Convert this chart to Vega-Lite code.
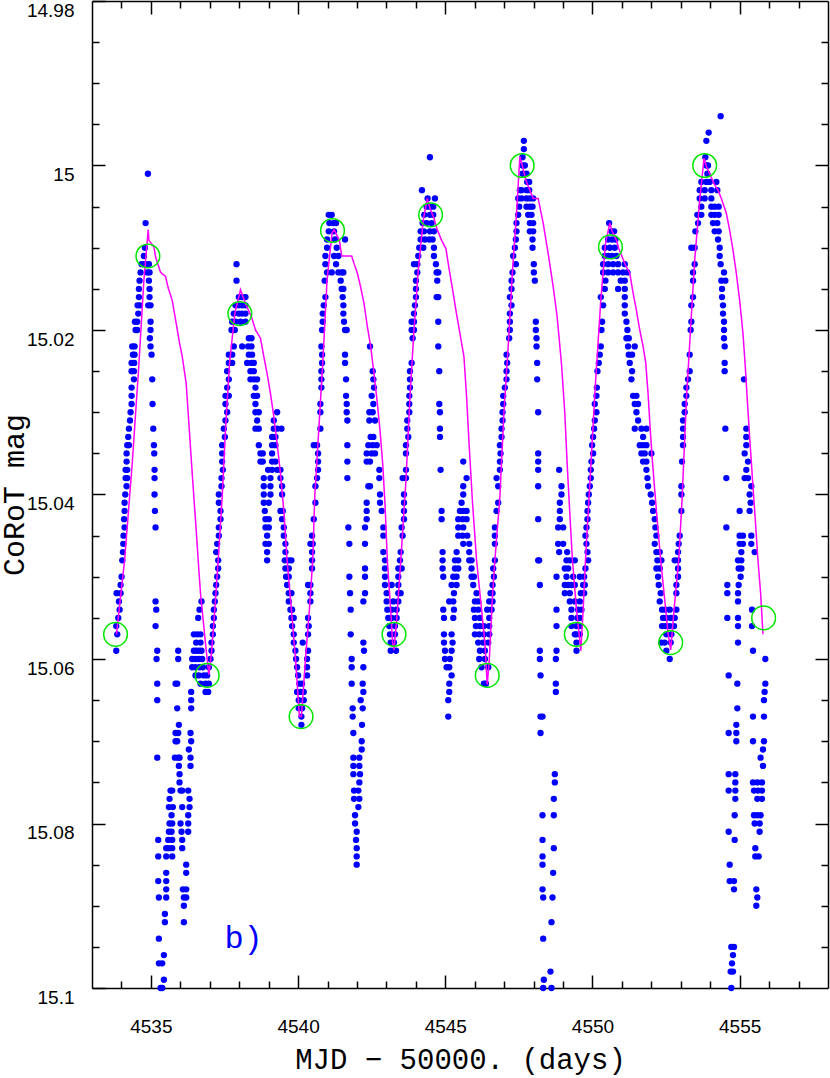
{
"$schema": "https://vega.github.io/schema/vega-lite/v6.json",
"width": 736, "height": 987,
"autosize": {"type": "none"},
"padding": {"left": 92, "top": 1, "right": 2, "bottom": 90},
"config": {"view": {"stroke": null}, "font": "Liberation Sans"},
"datasets": {
"obs": [
{"t":4534.899,"m":15.001},{"t":4534.82,"m":15.007},{"t":4534.797,"m":15.010},{"t":4534.763,"m":15.011},
{"t":4534.684,"m":15.012},{"t":4534.763,"m":15.012},{"t":4534.842,"m":15.012},{"t":4534.933,"m":15.012},
{"t":4534.65,"m":15.013},{"t":4534.876,"m":15.013},{"t":4534.955,"m":15.013},{"t":4534.616,"m":15.014},{"t":4534.933,"m":15.014},
{"t":4534.594,"m":15.015},{"t":4534.955,"m":15.015},{"t":4534.594,"m":15.016},{"t":4534.955,"m":15.016},
{"t":4534.548,"m":15.017},{"t":4534.627,"m":15.017},{"t":4534.91,"m":15.017},{"t":4534.989,"m":15.017},{"t":4534.571,"m":15.018},
{"t":4534.458,"m":15.019},{"t":4534.537,"m":15.019},{"t":4534.989,"m":15.019},{"t":4534.48,"m":15.020},{"t":4534.537,"m":15.020},{"t":4534.989,"m":15.020},
{"t":4534.967,"m":15.021},{"t":4534.367,"m":15.022},{"t":4534.446,"m":15.022},{"t":4534.989,"m":15.022},{"t":4534.39,"m":15.023},{"t":4534.446,"m":15.023},{"t":4535.023,"m":15.023},
{"t":4534.345,"m":15.024},{"t":4534.435,"m":15.024},{"t":4534.345,"m":15.025},{"t":4534.424,"m":15.025},{"t":4534.424,"m":15.026},{"t":4535.046,"m":15.026},
{"t":4534.345,"m":15.027},{"t":4534.345,"m":15.028},{"t":4534.345,"m":15.029},{"t":4535.057,"m":15.029},{"t":4534.311,"m":15.030},{"t":4534.29,"m":15.031},
{"t":4534.254,"m":15.032},{"t":4535.08,"m":15.032},{"t":4534.23,"m":15.033},{"t":4534.198,"m":15.034},{"t":4534.254,"m":15.034},{"t":4535.103,"m":15.034},
{"t":4534.175,"m":15.035},{"t":4535.114,"m":15.035},{"t":4534.175,"m":15.036},{"t":4534.141,"m":15.037},{"t":4534.198,"m":15.037},{"t":4535.125,"m":15.037},
{"t":4534.141,"m":15.038},{"t":4534.198,"m":15.038},{"t":4535.125,"m":15.038},{"t":4534.175,"m":15.039},{"t":4534.13,"m":15.040},{"t":4535.125,"m":15.040},
{"t":4534.107,"m":15.041},{"t":4534.107,"m":15.042},{"t":4535.137,"m":15.042},{"t":4534.09,"m":15.043},{"t":4534.107,"m":15.044},{"t":4535.159,"m":15.044},
{"t":4534.07,"m":15.045},{"t":4534.062,"m":15.046},{"t":4534.051,"m":15.047},
{"t":4534.028,"m":15.048},{"t":4534.005,"m":15.050},{"t":4533.971,"m":15.051},{"t":4533.836,"m":15.052},{"t":4533.971,"m":15.052},{"t":4533.915,"m":15.053},
{"t":4533.938,"m":15.054},{"t":4533.892,"m":15.055},{"t":4533.824,"m":15.056},{"t":4533.858,"m":15.057},{"t":4533.824,"m":15.059},
{"t":4535.159,"m":15.053},{"t":4535.182,"m":15.054},{"t":4535.159,"m":15.056},{"t":4535.216,"m":15.059},{"t":4535.193,"m":15.060},{"t":4535.216,"m":15.063},
{"t":4535.216,"m":15.065},{"t":4535.216,"m":15.072},{"t":4535.25,"m":15.082},{"t":4535.25,"m":15.084},{"t":4535.25,"m":15.087},{"t":4535.272,"m":15.089},
{"t":4535.272,"m":15.094},{"t":4535.272,"m":15.097},{"t":4535.385,"m":15.097},{"t":4535.442,"m":15.096},{"t":4535.442,"m":15.099},{"t":4535.385,"m":15.100},{"t":4535.329,"m":15.100},
{"t":4535.928,"m":15.059},{"t":4535.928,"m":15.060},{"t":4535.838,"m":15.063},{"t":4535.894,"m":15.063},{"t":4535.894,"m":15.066},{"t":4535.951,"m":15.068},
{"t":4535.838,"m":15.069},{"t":4535.928,"m":15.069},{"t":4535.838,"m":15.070},{"t":4535.894,"m":15.070},{"t":4535.815,"m":15.072},{"t":4535.928,"m":15.072},
{"t":4535.974,"m":15.072},{"t":4535.951,"m":15.073},{"t":4535.974,"m":15.074},{"t":4535.974,"m":15.075},{"t":4535.668,"m":15.076},{"t":4535.725,"m":15.076},
{"t":4536.007,"m":15.076},{"t":4535.634,"m":15.077},{"t":4535.612,"m":15.078},{"t":4535.747,"m":15.078},{"t":4535.702,"m":15.079},{"t":4535.634,"m":15.080},
{"t":4535.725,"m":15.080},{"t":4535.612,"m":15.081},{"t":4535.702,"m":15.081},{"t":4535.589,"m":15.082},{"t":4535.725,"m":15.082},{"t":4535.521,"m":15.083},
{"t":4535.612,"m":15.083},{"t":4535.725,"m":15.083},{"t":4535.521,"m":15.084},{"t":4535.725,"m":15.084},{"t":4535.521,"m":15.086},{"t":4535.521,"m":15.087},
{"t":4535.521,"m":15.088},{"t":4535.521,"m":15.089},{"t":4535.476,"m":15.091},{"t":4535.476,"m":15.092},
{"t":4536.369,"m":15.064},{"t":4536.369,"m":15.065},{"t":4536.369,"m":15.066},{"t":4536.347,"m":15.069},{"t":4536.369,"m":15.070},{"t":4536.29,"m":15.071},
{"t":4536.347,"m":15.072},{"t":4536.347,"m":15.073},{"t":4536.268,"m":15.076},{"t":4536.064,"m":15.076},{"t":4536.313,"m":15.077},{"t":4536.064,"m":15.078},
{"t":4536.313,"m":15.078},{"t":4536.268,"m":15.079},{"t":4536.007,"m":15.080},{"t":4536.268,"m":15.080},{"t":4536.041,"m":15.081},{"t":4536.268,"m":15.081},
{"t":4536.064,"m":15.082},{"t":4536.064,"m":15.083},{"t":4536.2,"m":15.085},{"t":4536.2,"m":15.086},{"t":4536.087,"m":15.088},{"t":4536.2,"m":15.088},
{"t":4536.121,"m":15.089},{"t":4536.2,"m":15.089},{"t":4536.121,"m":15.090},{"t":4536.121,"m":15.092},
{"t":4536.72,"m":15.053},{"t":4536.652,"m":15.054},{"t":4536.607,"m":15.055},{"t":4536.46,"m":15.057},{"t":4536.573,"m":15.057},{"t":4536.686,"m":15.057},
{"t":4536.539,"m":15.058},{"t":4536.686,"m":15.058},{"t":4536.46,"m":15.059},{"t":4536.539,"m":15.059},{"t":4536.63,"m":15.059},{"t":4536.72,"m":15.059},
{"t":4536.403,"m":15.060},{"t":4536.516,"m":15.060},{"t":4536.63,"m":15.060},{"t":4536.743,"m":15.060},{"t":4536.403,"m":15.061},{"t":4536.516,"m":15.061},
{"t":4536.652,"m":15.061},{"t":4536.765,"m":15.061},{"t":4536.516,"m":15.062},{"t":4536.63,"m":15.062},{"t":4536.799,"m":15.062},{"t":4536.912,"m":15.062},
{"t":4536.686,"m":15.063},{"t":4536.856,"m":15.063},{"t":4536.969,"m":15.063},{"t":4536.856,"m":15.064},{"t":4536.946,"m":15.064},
{"t":4537.286,"m":15.048},{"t":4537.286,"m":15.049},{"t":4537.252,"m":15.050},{"t":4537.218,"m":15.051},{"t":4537.195,"m":15.052},{"t":4537.172,"m":15.053},
{"t":4537.139,"m":15.054},{"t":4537.139,"m":15.055},{"t":4537.105,"m":15.056},{"t":4537.105,"m":15.057},{"t":4537.059,"m":15.058},{"t":4537.059,"m":15.059},
{"t":4537.025,"m":15.060},{"t":4536.969,"m":15.061},
{"t":4537.908,"m":15.012},{"t":4537.908,"m":15.014},{"t":4537.987,"m":15.016},{"t":4538.1,"m":15.016},{"t":4538.213,"m":15.016},
{"t":4537.874,"m":15.017},{"t":4537.987,"m":15.017},{"t":4538.1,"m":15.017},{"t":4538.213,"m":15.017},
{"t":4537.817,"m":15.018},{"t":4537.987,"m":15.018},{"t":4538.1,"m":15.018},{"t":4538.213,"m":15.018},
{"t":4537.761,"m":15.019},{"t":4537.874,"m":15.019},{"t":4538.044,"m":15.019},{"t":4538.213,"m":15.019},
{"t":4537.738,"m":15.020},{"t":4537.851,"m":15.020},{"t":4538.326,"m":15.021},{"t":4538.417,"m":15.021},
{"t":4537.817,"m":15.022},{"t":4538.1,"m":15.022},{"t":4538.304,"m":15.022},{"t":4538.417,"m":15.022},
{"t":4537.648,"m":15.023},{"t":4537.761,"m":15.023},{"t":4538.326,"m":15.023},{"t":4538.439,"m":15.023},
{"t":4537.648,"m":15.024},{"t":4537.761,"m":15.024},{"t":4538.27,"m":15.024},{"t":4538.417,"m":15.024},{"t":4538.496,"m":15.024},
{"t":4537.591,"m":15.025},{"t":4538.383,"m":15.025},{"t":4538.496,"m":15.025},
{"t":4537.648,"m":15.026},{"t":4538.383,"m":15.026},{"t":4538.496,"m":15.026},{"t":4538.609,"m":15.026},
{"t":4537.591,"m":15.027},{"t":4538.552,"m":15.027},{"t":4537.534,"m":15.028},{"t":4537.648,"m":15.028},{"t":4538.496,"m":15.028},{"t":4538.609,"m":15.028},
{"t":4537.534,"m":15.029},{"t":4538.552,"m":15.029},{"t":4537.591,"m":15.030},{"t":4538.552,"m":15.030},{"t":4538.666,"m":15.030},{"t":4539.288,"m":15.030},
{"t":4537.534,"m":15.031},{"t":4538.609,"m":15.031},{"t":4539.175,"m":15.031},
{"t":4537.478,"m":15.032},{"t":4538.552,"m":15.032},{"t":4538.666,"m":15.032},{"t":4539.175,"m":15.032},{"t":4539.288,"m":15.032},{"t":4539.435,"m":15.032},
{"t":4537.512,"m":15.033},{"t":4539.118,"m":15.033},{"t":4539.231,"m":15.033},
{"t":4537.421,"m":15.034},{"t":4538.666,"m":15.034},{"t":4539.118,"m":15.034},{"t":4539.231,"m":15.034},
{"t":4537.421,"m":15.035},{"t":4538.722,"m":15.035},{"t":4538.801,"m":15.035},{"t":4539.118,"m":15.035},
{"t":4537.421,"m":15.036},{"t":4538.722,"m":15.036},{"t":4538.801,"m":15.036},{"t":4539.118,"m":15.036},{"t":4539.231,"m":15.036},
{"t":4537.444,"m":15.037},{"t":4538.982,"m":15.037},{"t":4539.118,"m":15.037},{"t":4539.288,"m":15.037},{"t":4539.401,"m":15.037},
{"t":4537.399,"m":15.038},{"t":4538.835,"m":15.038},{"t":4539.062,"m":15.038},{"t":4539.401,"m":15.038},
{"t":4537.399,"m":15.039},{"t":4538.835,"m":15.039},{"t":4539.062,"m":15.039},{"t":4539.457,"m":15.039},
{"t":4537.308,"m":15.040},{"t":4538.835,"m":15.040},{"t":4539.062,"m":15.040},{"t":4539.457,"m":15.040},
{"t":4537.308,"m":15.041},{"t":4538.835,"m":15.041},{"t":4539.005,"m":15.041},
{"t":4537.365,"m":15.042},{"t":4538.869,"m":15.042},{"t":4539.401,"m":15.042},{"t":4539.48,"m":15.042},
{"t":4537.365,"m":15.043},{"t":4538.892,"m":15.043},{"t":4539.005,"m":15.043},{"t":4539.457,"m":15.043},
{"t":4537.308,"m":15.044},{"t":4538.892,"m":15.044},{"t":4539.005,"m":15.044},{"t":4539.514,"m":15.044},
{"t":4537.308,"m":15.045},{"t":4538.948,"m":15.045},{"t":4539.514,"m":15.045},
{"t":4537.252,"m":15.046},{"t":4538.892,"m":15.046},{"t":4539.005,"m":15.046},{"t":4539.57,"m":15.046},
{"t":4537.218,"m":15.047},{"t":4538.948,"m":15.047},{"t":4539.57,"m":15.047},
{"t":4538.948,"m":15.048},{"t":4539.548,"m":15.048},{"t":4539.684,"m":15.048},{"t":4539.774,"m":15.048},{"t":4539.57,"m":15.049},{"t":4539.684,"m":15.049},
{"t":4539.593,"m":15.050},{"t":4539.684,"m":15.050},{"t":4539.627,"m":15.051},{"t":4539.684,"m":15.052},{"t":4539.774,"m":15.052},{"t":4539.684,"m":15.053},
{"t":4539.74,"m":15.054},{"t":4539.797,"m":15.054},{"t":4539.774,"m":15.055},{"t":4539.853,"m":15.055},{"t":4539.797,"m":15.056},{"t":4539.853,"m":15.057},
{"t":4539.853,"m":15.058},{"t":4540.158,"m":15.058},{"t":4539.91,"m":15.059},{"t":4540.339,"m":15.059},{"t":4539.932,"m":15.060},{"t":4540.306,"m":15.060},
{"t":4539.966,"m":15.061},{"t":4540.306,"m":15.061},{"t":4540.0,"m":15.062},{"t":4540.306,"m":15.062},{"t":4540.045,"m":15.063},{"t":4540.136,"m":15.063},
{"t":4539.966,"m":15.064},{"t":4540.079,"m":15.064},{"t":4540.192,"m":15.064},{"t":4540.023,"m":15.065},{"t":4540.192,"m":15.065},{"t":4540.023,"m":15.066},
{"t":4540.136,"m":15.066},{"t":4540.113,"m":15.067},{"t":4540.113,"m":15.068},
{"t":4540.475,"m":15.048},{"t":4540.475,"m":15.049},{"t":4540.339,"m":15.051},{"t":4540.419,"m":15.051},{"t":4540.419,"m":15.052},{"t":4540.419,"m":15.053},
{"t":4540.339,"m":15.055},{"t":4540.362,"m":15.056},{"t":4540.339,"m":15.057},
{"t":4541.041,"m":15.006},{"t":4541.063,"m":15.007},{"t":4541.041,"m":15.008},{"t":4540.984,"m":15.009},{"t":4540.984,"m":15.010},{"t":4540.928,"m":15.011},
{"t":4540.928,"m":15.012},{"t":4540.984,"m":15.013},{"t":4540.905,"m":15.014},{"t":4540.928,"m":15.016},{"t":4540.871,"m":15.017},{"t":4540.837,"m":15.018},
{"t":4540.837,"m":15.019},{"t":4540.815,"m":15.020},{"t":4540.792,"m":15.022},{"t":4540.815,"m":15.023},{"t":4540.815,"m":15.024},{"t":4540.792,"m":15.025},
{"t":4540.792,"m":15.026},{"t":4540.792,"m":15.027},{"t":4540.758,"m":15.029},{"t":4540.758,"m":15.030},{"t":4540.758,"m":15.032},{"t":4540.532,"m":15.034},
{"t":4540.645,"m":15.034},{"t":4540.679,"m":15.035},{"t":4540.679,"m":15.036},{"t":4540.679,"m":15.037},{"t":4540.645,"m":15.038},{"t":4540.589,"m":15.039},
{"t":4540.589,"m":15.041},{"t":4540.532,"m":15.043},{"t":4540.475,"m":15.045},{"t":4540.419,"m":15.046},{"t":4540.498,"m":15.046},{"t":4540.475,"m":15.047},
{"t":4541.143,"m":15.006},{"t":4541.199,"m":15.007},{"t":4541.29,"m":15.007},{"t":4541.222,"m":15.008},{"t":4541.256,"m":15.009},{"t":4541.595,"m":15.009},
{"t":4541.312,"m":15.010},{"t":4541.222,"m":15.011},{"t":4541.369,"m":15.011},{"t":4541.29,"m":15.012},{"t":4541.143,"m":15.013},{"t":4541.369,"m":15.013},
{"t":4541.482,"m":15.013},{"t":4541.538,"m":15.013},{"t":4541.448,"m":15.014},{"t":4541.482,"m":15.015},{"t":4541.538,"m":15.015},{"t":4541.516,"m":15.016},
{"t":4541.538,"m":15.017},{"t":4541.538,"m":15.018},{"t":4541.561,"m":15.019},{"t":4541.595,"m":15.020},{"t":4541.652,"m":15.020},{"t":4542.443,"m":15.022},
{"t":4541.595,"m":15.023},{"t":4541.595,"m":15.024},{"t":4542.534,"m":15.025},{"t":4541.629,"m":15.026},{"t":4542.557,"m":15.026},{"t":4542.579,"m":15.027},
{"t":4541.629,"m":15.028},{"t":4542.5,"m":15.028},{"t":4541.652,"m":15.029},{"t":4542.557,"m":15.029},{"t":4541.652,"m":15.030},{"t":4542.421,"m":15.030},
{"t":4542.534,"m":15.030},{"t":4541.674,"m":15.031},{"t":4542.421,"m":15.031},{"t":4542.613,"m":15.031},{"t":4542.466,"m":15.033},{"t":4542.557,"m":15.033},
{"t":4541.674,"m":15.034},{"t":4542.387,"m":15.034},{"t":4542.534,"m":15.034},{"t":4542.67,"m":15.034},{"t":4542.33,"m":15.035},{"t":4542.5,"m":15.035},
{"t":4542.613,"m":15.035},{"t":4541.674,"m":15.036},{"t":4542.33,"m":15.036},{"t":4542.443,"m":15.036},{"t":4542.76,"m":15.037},{"t":4541.674,"m":15.038},
{"t":4542.76,"m":15.038},{"t":4542.387,"m":15.039},{"t":4542.443,"m":15.039},{"t":4542.783,"m":15.040},{"t":4542.33,"m":15.041},{"t":4542.783,"m":15.041},
{"t":4542.33,"m":15.042},{"t":4542.839,"m":15.042},{"t":4542.33,"m":15.043},{"t":4541.708,"m":15.044},{"t":4542.274,"m":15.044},{"t":4542.896,"m":15.044},
{"t":4542.896,"m":15.045},{"t":4541.742,"m":15.046},{"t":4542.274,"m":15.046},{"t":4542.896,"m":15.047},
{"t":4541.742,"m":15.050},{"t":4541.765,"m":15.052},{"t":4541.787,"m":15.054},{"t":4541.787,"m":15.057},{"t":4541.821,"m":15.060},{"t":4541.821,"m":15.061},
{"t":4541.821,"m":15.063},{"t":4541.855,"m":15.066},{"t":4541.855,"m":15.067},{"t":4541.878,"m":15.069},{"t":4541.878,"m":15.072},{"t":4542.081,"m":15.072},
{"t":4541.878,"m":15.073},{"t":4542.081,"m":15.073},{"t":4541.878,"m":15.074},{"t":4542.104,"m":15.074},{"t":4542.081,"m":15.075},{"t":4541.9,"m":15.076},
{"t":4542.047,"m":15.076},{"t":4541.9,"m":15.077},{"t":4542.081,"m":15.077},{"t":4542.047,"m":15.078},{"t":4541.935,"m":15.079},{"t":4541.935,"m":15.080},
{"t":4541.991,"m":15.081},{"t":4541.968,"m":15.082},{"t":4541.991,"m":15.083},{"t":4541.991,"m":15.084},{"t":4541.991,"m":15.085},
{"t":4542.274,"m":15.049},{"t":4542.274,"m":15.050},{"t":4542.274,"m":15.052},{"t":4542.217,"m":15.053},{"t":4542.217,"m":15.058},{"t":4542.24,"m":15.059},
{"t":4542.217,"m":15.061},{"t":4542.194,"m":15.063},{"t":4542.217,"m":15.064},{"t":4542.127,"m":15.065},{"t":4542.194,"m":15.066},{"t":4542.172,"m":15.068},
{"t":4542.161,"m":15.070},{"t":4542.161,"m":15.071},
{"t":4542.952,"m":15.048},{"t":4543.461,"m":15.048},{"t":4542.952,"m":15.049},{"t":4543.405,"m":15.049},{"t":4543.518,"m":15.049},{"t":4542.952,"m":15.050},
{"t":4543.405,"m":15.050},{"t":4542.952,"m":15.051},{"t":4543.179,"m":15.051},{"t":4543.405,"m":15.051},{"t":4543.009,"m":15.052},{"t":4543.405,"m":15.052},
{"t":4543.484,"m":15.052},{"t":4543.009,"m":15.053},{"t":4543.235,"m":15.053},{"t":4543.405,"m":15.053},{"t":4543.032,"m":15.054},{"t":4543.179,"m":15.054},
{"t":4543.348,"m":15.054},{"t":4543.065,"m":15.055},{"t":4543.179,"m":15.055},{"t":4543.348,"m":15.055},{"t":4543.099,"m":15.056},{"t":4543.292,"m":15.056},
{"t":4543.122,"m":15.057},{"t":4543.292,"m":15.057},{"t":4543.145,"m":15.058},{"t":4543.258,"m":15.058},{"t":4543.145,"m":15.059},{"t":4543.326,"m":15.059},
{"t":4544.479,"m":14.999},{"t":4544.208,"m":15.003},{"t":4544.4,"m":15.004},{"t":4544.649,"m":15.004},{"t":4544.366,"m":15.005},{"t":4544.479,"m":15.005},
{"t":4544.592,"m":15.005},{"t":4544.287,"m":15.006},{"t":4544.479,"m":15.006},{"t":4544.592,"m":15.006},{"t":4544.23,"m":15.007},{"t":4544.366,"m":15.007},
{"t":4544.536,"m":15.007},{"t":4544.163,"m":15.008},{"t":4544.276,"m":15.008},{"t":4544.479,"m":15.008},{"t":4544.615,"m":15.008},{"t":4544.163,"m":15.009},
{"t":4544.31,"m":15.009},{"t":4544.457,"m":15.009},{"t":4544.57,"m":15.009},{"t":4544.117,"m":15.010},{"t":4544.253,"m":15.010},{"t":4544.615,"m":15.010},
{"t":4544.083,"m":15.011},{"t":4544.615,"m":15.011},{"t":4543.937,"m":15.012},{"t":4544.05,"m":15.012},{"t":4544.683,"m":15.012},{"t":4544.05,"m":15.013},
{"t":4544.706,"m":15.013},{"t":4544.762,"m":15.013},{"t":4544.004,"m":15.014},{"t":4544.728,"m":15.014},{"t":4544.004,"m":15.015},{"t":4544.004,"m":15.016},
{"t":4544.706,"m":15.016},{"t":4544.762,"m":15.016},{"t":4543.97,"m":15.017},{"t":4543.937,"m":15.018},{"t":4543.857,"m":15.019},{"t":4543.937,"m":15.019},
{"t":4544.762,"m":15.019},{"t":4543.857,"m":15.020},{"t":4543.937,"m":15.020},{"t":4543.891,"m":15.021},{"t":4544.762,"m":15.022},{"t":4543.857,"m":15.024},
{"t":4543.801,"m":15.025},{"t":4544.796,"m":15.025},{"t":4543.801,"m":15.026},{"t":4543.801,"m":15.027},{"t":4543.778,"m":15.028},{"t":4543.778,"m":15.029},
{"t":4544.796,"m":15.029},{"t":4543.778,"m":15.030},{"t":4544.819,"m":15.030},{"t":4543.71,"m":15.031},{"t":4543.71,"m":15.032},{"t":4544.819,"m":15.032},
{"t":4543.744,"m":15.033},{"t":4544.819,"m":15.033},{"t":4543.665,"m":15.034},{"t":4543.665,"m":15.035},{"t":4545.61,"m":15.036},{"t":4543.665,"m":15.037},
{"t":4544.841,"m":15.037},{"t":4543.552,"m":15.038},{"t":4543.665,"m":15.038},{"t":4545.724,"m":15.038},{"t":4545.61,"m":15.039},{"t":4543.597,"m":15.040},
{"t":4545.61,"m":15.040},{"t":4543.597,"m":15.041},{"t":4545.554,"m":15.041},{"t":4543.597,"m":15.042},{"t":4544.875,"m":15.042},{"t":4545.497,"m":15.042},
{"t":4545.61,"m":15.042},{"t":4545.724,"m":15.042},{"t":4543.597,"m":15.043},{"t":4544.875,"m":15.043},{"t":4545.441,"m":15.043},{"t":4545.588,"m":15.043},
{"t":4545.724,"m":15.043},{"t":4543.518,"m":15.044},{"t":4545.441,"m":15.044},{"t":4545.61,"m":15.044},{"t":4543.552,"m":15.045},{"t":4545.441,"m":15.045},
{"t":4545.588,"m":15.045},{"t":4545.747,"m":15.045},{"t":4545.61,"m":15.046},{"t":4545.814,"m":15.046},{"t":4543.484,"m":15.047},{"t":4544.909,"m":15.047},
{"t":4545.384,"m":15.047},{"t":4545.814,"m":15.047},{"t":4545.814,"m":15.048},
{"t":4544.909,"m":15.048},{"t":4545.328,"m":15.048},{"t":4545.441,"m":15.048},{"t":4544.909,"m":15.049},{"t":4545.328,"m":15.049},{"t":4545.441,"m":15.049},
{"t":4544.932,"m":15.050},{"t":4545.271,"m":15.050},{"t":4545.384,"m":15.050},{"t":4545.215,"m":15.051},{"t":4545.384,"m":15.051},{"t":4545.294,"m":15.052},
{"t":4545.135,"m":15.053},{"t":4545.271,"m":15.053},{"t":4544.932,"m":15.054},{"t":4545.294,"m":15.054},{"t":4544.955,"m":15.055},{"t":4545.271,"m":15.055},
{"t":4544.955,"m":15.057},{"t":4545.215,"m":15.057},{"t":4544.955,"m":15.058},{"t":4545.248,"m":15.058},{"t":4544.989,"m":15.059},{"t":4545.215,"m":15.059},
{"t":4544.989,"m":15.060},{"t":4545.158,"m":15.060},{"t":4545.045,"m":15.061},{"t":4545.135,"m":15.061},{"t":4545.215,"m":15.062},{"t":4545.135,"m":15.063},
{"t":4545.135,"m":15.064},{"t":4545.102,"m":15.065},{"t":4545.102,"m":15.067},
{"t":4545.893,"m":15.048},{"t":4546.685,"m":15.048},{"t":4545.893,"m":15.049},{"t":4546.628,"m":15.049},{"t":4545.893,"m":15.050},{"t":4545.972,"m":15.050},
{"t":4546.651,"m":15.050},{"t":4545.95,"m":15.051},{"t":4546.606,"m":15.051},{"t":4546.063,"m":15.052},{"t":4546.538,"m":15.052},{"t":4546.606,"m":15.052},
{"t":4546.006,"m":15.053},{"t":4546.119,"m":15.053},{"t":4546.493,"m":15.053},{"t":4546.606,"m":15.053},{"t":4545.972,"m":15.054},{"t":4546.119,"m":15.054},
{"t":4546.425,"m":15.054},{"t":4546.572,"m":15.054},{"t":4546.006,"m":15.055},{"t":4546.176,"m":15.055},{"t":4546.493,"m":15.055},{"t":4546.04,"m":15.056},
{"t":4546.176,"m":15.056},{"t":4546.312,"m":15.056},{"t":4546.493,"m":15.056},{"t":4546.006,"m":15.057},{"t":4546.153,"m":15.057},{"t":4546.312,"m":15.057},
{"t":4546.493,"m":15.057},{"t":4546.119,"m":15.058},{"t":4546.289,"m":15.058},{"t":4546.459,"m":15.058},{"t":4546.176,"m":15.059},{"t":4546.346,"m":15.059},
{"t":4546.153,"m":15.060},{"t":4546.346,"m":15.060},{"t":4546.233,"m":15.061},{"t":4546.459,"m":15.061},{"t":4546.312,"m":15.063},{"t":4546.38,"m":15.063},
{"t":4547.669,"m":14.997},{"t":4547.669,"m":14.998},{"t":4547.624,"m":14.999},{"t":4547.624,"m":15.000},{"t":4547.703,"m":15.000},{"t":4547.624,"m":15.001},
{"t":4547.76,"m":15.001},{"t":4547.782,"m":15.002},{"t":4547.85,"m":15.002},{"t":4547.533,"m":15.003},{"t":4547.59,"m":15.003},{"t":4547.76,"m":15.003},
{"t":4547.85,"m":15.003},{"t":4547.477,"m":15.004},{"t":4547.59,"m":15.004},{"t":4547.76,"m":15.004},{"t":4547.873,"m":15.004},{"t":4547.986,"m":15.004},
{"t":4547.511,"m":15.005},{"t":4547.76,"m":15.005},{"t":4547.873,"m":15.005},{"t":4547.963,"m":15.005},{"t":4547.477,"m":15.006},{"t":4547.816,"m":15.006},
{"t":4547.929,"m":15.006},{"t":4547.42,"m":15.007},{"t":4547.873,"m":15.007},{"t":4547.986,"m":15.007},{"t":4547.42,"m":15.008},{"t":4547.873,"m":15.008},
{"t":4547.986,"m":15.008},{"t":4547.398,"m":15.009},{"t":4547.963,"m":15.009},{"t":4547.364,"m":15.010},{"t":4547.963,"m":15.010},{"t":4547.307,"m":15.011},
{"t":4547.398,"m":15.012},{"t":4548.008,"m":15.012},{"t":4547.285,"m":15.013},{"t":4548.008,"m":15.013},{"t":4547.25,"m":15.014},{"t":4548.042,"m":15.014},
{"t":4547.25,"m":15.015},{"t":4547.194,"m":15.016},{"t":4547.25,"m":15.017},{"t":4547.194,"m":15.018},{"t":4547.194,"m":15.019},{"t":4548.076,"m":15.019},
{"t":4547.194,"m":15.020},{"t":4548.076,"m":15.020},{"t":4547.171,"m":15.021},{"t":4548.099,"m":15.021},{"t":4548.099,"m":15.022},{"t":4547.081,"m":15.023},
{"t":4547.104,"m":15.024},{"t":4548.121,"m":15.024},{"t":4547.081,"m":15.025},{"t":4547.081,"m":15.026},{"t":4548.121,"m":15.026},{"t":4547.024,"m":15.027},
{"t":4546.968,"m":15.028},{"t":4546.968,"m":15.029},{"t":4546.945,"m":15.030},{"t":4548.155,"m":15.030},{"t":4546.945,"m":15.031},{"t":4546.911,"m":15.032},
{"t":4546.911,"m":15.033},{"t":4546.855,"m":15.034},{"t":4546.877,"m":15.035},{"t":4548.155,"m":15.035},{"t":4546.855,"m":15.036},{"t":4548.155,"m":15.036},
{"t":4546.855,"m":15.037},{"t":4548.155,"m":15.037},{"t":4548.868,"m":15.037},{"t":4546.742,"m":15.038},{"t":4546.798,"m":15.039},{"t":4548.155,"m":15.039},
{"t":4548.947,"m":15.039},{"t":4548.947,"m":15.040},{"t":4546.798,"m":15.041},{"t":4548.891,"m":15.041},{"t":4546.742,"m":15.042},{"t":4548.891,"m":15.042},
{"t":4548.155,"m":15.043},{"t":4548.891,"m":15.043},{"t":4546.685,"m":15.044},{"t":4548.834,"m":15.044},{"t":4549.004,"m":15.044},{"t":4546.685,"m":15.045},
{"t":4546.685,"m":15.046},{"t":4548.834,"m":15.046},{"t":4549.004,"m":15.046},{"t":4548.868,"m":15.047},{"t":4549.14,"m":15.047},{"t":4548.155,"m":15.048},
{"t":4548.189,"m":15.048},{"t":4548.778,"m":15.050},{"t":4548.212,"m":15.051},{"t":4548.778,"m":15.054},{"t":4548.778,"m":15.056},{"t":4548.212,"m":15.059},
{"t":4548.778,"m":15.059},{"t":4548.212,"m":15.060},{"t":4548.755,"m":15.060},{"t":4548.235,"m":15.062},{"t":4548.755,"m":15.063},{"t":4548.755,"m":15.064},
{"t":4548.235,"m":15.067},{"t":4548.303,"m":15.067},{"t":4548.235,"m":15.069},{"t":4548.721,"m":15.074},{"t":4548.721,"m":15.075},{"t":4548.687,"m":15.077},
{"t":4548.303,"m":15.079},{"t":4548.687,"m":15.079},{"t":4548.303,"m":15.082},{"t":4548.687,"m":15.083},{"t":4548.303,"m":15.084},{"t":4548.303,"m":15.085},
{"t":4548.664,"m":15.086},{"t":4548.303,"m":15.088},{"t":4548.325,"m":15.089},{"t":4548.642,"m":15.089},{"t":4548.608,"m":15.092},{"t":4548.325,"m":15.094},
{"t":4548.574,"m":15.098},{"t":4548.348,"m":15.099},{"t":4548.325,"m":15.100},{"t":4548.608,"m":15.100},
{"t":4549.117,"m":15.048},{"t":4549.23,"m":15.048},{"t":4549.4,"m":15.048},{"t":4549.06,"m":15.049},{"t":4549.173,"m":15.049},{"t":4549.117,"m":15.050},
{"t":4549.343,"m":15.050},{"t":4549.06,"m":15.051},{"t":4549.173,"m":15.051},{"t":4549.286,"m":15.051},{"t":4549.4,"m":15.051},{"t":4549.06,"m":15.052},
{"t":4549.23,"m":15.052},{"t":4549.23,"m":15.053},{"t":4549.4,"m":15.053},{"t":4549.286,"m":15.054},{"t":4549.286,"m":15.055},{"t":4549.286,"m":15.056},
{"t":4549.4,"m":15.057},
{"t":4549.852,"m":15.048},{"t":4549.762,"m":15.049},{"t":4549.57,"m":15.050},{"t":4549.717,"m":15.050},{"t":4549.683,"m":15.051},{"t":4549.739,"m":15.051},
{"t":4549.604,"m":15.052},{"t":4549.717,"m":15.052},{"t":4549.57,"m":15.053},{"t":4549.513,"m":15.054},{"t":4549.626,"m":15.054},{"t":4549.49,"m":15.055},
{"t":4549.57,"m":15.055},{"t":4549.457,"m":15.056},{"t":4549.57,"m":15.056},{"t":4549.457,"m":15.057},{"t":4549.57,"m":15.057},{"t":4549.457,"m":15.058},
{"t":4549.457,"m":15.059},
{"t":4550.565,"m":15.007},{"t":4550.644,"m":15.008},{"t":4550.735,"m":15.008},{"t":4550.531,"m":15.009},{"t":4550.667,"m":15.009},{"t":4550.78,"m":15.009},
{"t":4550.418,"m":15.010},{"t":4550.588,"m":15.010},{"t":4550.757,"m":15.010},{"t":4550.418,"m":15.011},{"t":4550.531,"m":15.011},{"t":4550.667,"m":15.011},
{"t":4550.814,"m":15.011},{"t":4550.361,"m":15.012},{"t":4550.531,"m":15.012},{"t":4550.701,"m":15.012},{"t":4550.87,"m":15.012},{"t":4551.097,"m":15.012},
{"t":4550.361,"m":15.013},{"t":4550.531,"m":15.013},{"t":4550.701,"m":15.013},{"t":4550.87,"m":15.013},{"t":4551.04,"m":15.013},{"t":4551.187,"m":15.013},
{"t":4550.441,"m":15.014},{"t":4550.961,"m":15.014},{"t":4551.097,"m":15.014},{"t":4550.418,"m":15.015},{"t":4550.87,"m":15.015},{"t":4551.097,"m":15.015},
{"t":4550.282,"m":15.016},{"t":4551.097,"m":15.016},{"t":4550.361,"m":15.017},{"t":4551.097,"m":15.017},{"t":4551.097,"m":15.018},{"t":4550.327,"m":15.019},
{"t":4551.153,"m":15.019},{"t":4550.305,"m":15.020},{"t":4551.187,"m":15.020},{"t":4551.153,"m":15.021},{"t":4551.233,"m":15.021},{"t":4550.282,"m":15.022},
{"t":4551.21,"m":15.022},{"t":4551.436,"m":15.022},{"t":4550.248,"m":15.023},{"t":4551.233,"m":15.023},{"t":4551.345,"m":15.023},{"t":4550.214,"m":15.024},
{"t":4551.266,"m":15.024},{"t":4550.169,"m":15.025},{"t":4551.345,"m":15.025},{"t":4551.323,"m":15.026},{"t":4550.15,"m":15.027},{"t":4550.135,"m":15.028},
{"t":4551.379,"m":15.028},{"t":4551.493,"m":15.028},{"t":4550.079,"m":15.029},{"t":4551.436,"m":15.029},{"t":4551.549,"m":15.029},{"t":4550.135,"m":15.030},
{"t":4551.493,"m":15.030},{"t":4550.079,"m":15.031},{"t":4551.549,"m":15.031},{"t":4550.056,"m":15.032},{"t":4551.436,"m":15.032},{"t":4551.662,"m":15.032},
{"t":4551.832,"m":15.032},{"t":4550.022,"m":15.033},{"t":4551.719,"m":15.033},{"t":4549.988,"m":15.034},{"t":4551.606,"m":15.034},{"t":4551.719,"m":15.034},
{"t":4551.832,"m":15.034},{"t":4550.022,"m":15.035},{"t":4551.662,"m":15.035},{"t":4551.775,"m":15.035},{"t":4552.002,"m":15.035},{"t":4549.966,"m":15.036},
{"t":4551.719,"m":15.036},{"t":4551.832,"m":15.036},{"t":4549.943,"m":15.037},{"t":4551.832,"m":15.037},{"t":4549.943,"m":15.038},{"t":4551.866,"m":15.038},
{"t":4549.909,"m":15.039},{"t":4551.889,"m":15.039},{"t":4549.875,"m":15.040},{"t":4551.979,"m":15.040},{"t":4549.852,"m":15.041},{"t":4552.025,"m":15.041},
{"t":4549.83,"m":15.042},{"t":4552.058,"m":15.042},{"t":4549.83,"m":15.043},{"t":4552.115,"m":15.043},{"t":4549.796,"m":15.044},{"t":4552.137,"m":15.044},
{"t":4549.762,"m":15.045},{"t":4552.171,"m":15.045},{"t":4549.796,"m":15.046},{"t":4552.115,"m":15.046},{"t":4549.83,"m":15.047},{"t":4552.171,"m":15.047},
{"t":4552.284,"m":15.047},
{"t":4552.205,"m":15.048},{"t":4552.341,"m":15.048},{"t":4552.793,"m":15.048},{"t":4552.906,"m":15.048},{"t":4552.171,"m":15.049},{"t":4552.284,"m":15.049},
{"t":4552.906,"m":15.049},{"t":4552.228,"m":15.050},{"t":4552.906,"m":15.050},{"t":4552.25,"m":15.051},{"t":4552.85,"m":15.051},{"t":4552.318,"m":15.052},
{"t":4552.85,"m":15.052},{"t":4552.284,"m":15.053},{"t":4552.363,"m":15.054},{"t":4552.477,"m":15.054},{"t":4552.624,"m":15.054},{"t":4552.85,"m":15.054},
{"t":4552.397,"m":15.055},{"t":4552.51,"m":15.055},{"t":4552.658,"m":15.055},{"t":4552.793,"m":15.055},{"t":4552.363,"m":15.056},{"t":4552.477,"m":15.056},
{"t":4552.624,"m":15.056},{"t":4552.771,"m":15.056},{"t":4552.51,"m":15.057},{"t":4552.68,"m":15.057},{"t":4552.341,"m":15.058},{"t":4552.454,"m":15.058},
{"t":4552.658,"m":15.058},{"t":4552.51,"m":15.059},{"t":4552.624,"m":15.060},
{"t":4554.354,"m":14.994},{"t":4553.947,"m":14.996},{"t":4553.868,"m":14.997},{"t":4553.834,"m":14.999},{"t":4553.868,"m":15.000},{"t":4553.924,"m":15.000},
{"t":4553.902,"m":15.001},{"t":4553.698,"m":15.002},{"t":4553.868,"m":15.002},{"t":4553.981,"m":15.002},{"t":4554.207,"m":15.002},{"t":4553.642,"m":15.003},
{"t":4553.811,"m":15.003},{"t":4554.037,"m":15.003},{"t":4554.241,"m":15.003},{"t":4553.642,"m":15.004},{"t":4553.811,"m":15.004},{"t":4554.037,"m":15.004},
{"t":4553.698,"m":15.005},{"t":4554.037,"m":15.005},{"t":4554.151,"m":15.005},{"t":4554.287,"m":15.005},{"t":4553.562,"m":15.006},{"t":4553.698,"m":15.006},
{"t":4554.037,"m":15.006},{"t":4554.151,"m":15.006},{"t":4554.287,"m":15.006},{"t":4553.585,"m":15.007},{"t":4554.094,"m":15.007},{"t":4554.241,"m":15.007},
{"t":4553.495,"m":15.008},{"t":4554.151,"m":15.008},{"t":4554.287,"m":15.008},{"t":4554.264,"m":15.009},{"t":4553.359,"m":15.010},{"t":4553.472,"m":15.010},
{"t":4554.321,"m":15.010},{"t":4554.321,"m":15.011},{"t":4553.472,"m":15.012},{"t":4554.354,"m":15.012},{"t":4553.416,"m":15.013},{"t":4554.468,"m":15.013},
{"t":4553.416,"m":15.014},{"t":4554.377,"m":15.014},{"t":4554.513,"m":15.014},{"t":4554.4,"m":15.015},{"t":4553.416,"m":15.016},{"t":4554.4,"m":15.016},
{"t":4553.359,"m":15.017},{"t":4554.434,"m":15.017},{"t":4554.434,"m":15.018},{"t":4553.359,"m":15.019},{"t":4554.468,"m":15.019},{"t":4553.336,"m":15.020},
{"t":4554.468,"m":15.020},{"t":4554.468,"m":15.021},{"t":4554.49,"m":15.022},{"t":4553.302,"m":15.023},{"t":4554.49,"m":15.024},{"t":4553.302,"m":15.025},
{"t":4554.49,"m":15.025},{"t":4553.246,"m":15.026},{"t":4555.146,"m":15.026},{"t":4553.189,"m":15.027},{"t":4553.189,"m":15.028},{"t":4553.133,"m":15.029},
{"t":4553.133,"m":15.030},{"t":4553.076,"m":15.031},{"t":4553.076,"m":15.032},{"t":4554.513,"m":15.032},{"t":4555.225,"m":15.032},{"t":4553.076,"m":15.033},
{"t":4555.225,"m":15.033},{"t":4553.076,"m":15.034},{"t":4555.225,"m":15.034},{"t":4555.169,"m":15.035},{"t":4553.042,"m":15.036},{"t":4555.282,"m":15.036},
{"t":4555.225,"m":15.037},{"t":4554.547,"m":15.038},{"t":4555.169,"m":15.038},{"t":4555.282,"m":15.038},{"t":4553.02,"m":15.039},{"t":4555.395,"m":15.039},
{"t":4553.02,"m":15.040},{"t":4555.338,"m":15.040},{"t":4555.372,"m":15.041},{"t":4553.02,"m":15.042},{"t":4554.999,"m":15.042},{"t":4555.338,"m":15.042},
{"t":4554.547,"m":15.044},{"t":4552.963,"m":15.045},{"t":4554.999,"m":15.045},{"t":4555.112,"m":15.045},{"t":4555.395,"m":15.045},{"t":4552.929,"m":15.046},
{"t":4554.999,"m":15.046},{"t":4555.112,"m":15.046},{"t":4555.395,"m":15.046},{"t":4552.906,"m":15.047},{"t":4555.056,"m":15.047},{"t":4555.508,"m":15.047},
{"t":4554.943,"m":15.048},{"t":4555.056,"m":15.048},{"t":4554.965,"m":15.049},{"t":4555.056,"m":15.049},{"t":4555.033,"m":15.050},{"t":4554.58,"m":15.051},
{"t":4554.965,"m":15.051},{"t":4554.58,"m":15.052},{"t":4554.943,"m":15.052},{"t":4554.943,"m":15.053},{"t":4555.418,"m":15.054},{"t":4554.58,"m":15.055},
{"t":4554.943,"m":15.055},{"t":4554.943,"m":15.056},{"t":4555.418,"m":15.056},{"t":4554.943,"m":15.058},{"t":4555.452,"m":15.059},{"t":4555.87,"m":15.060},
{"t":4554.626,"m":15.062},{"t":4554.92,"m":15.063},{"t":4555.87,"m":15.063},{"t":4555.847,"m":15.064},{"t":4555.825,"m":15.065},{"t":4554.92,"m":15.066},
{"t":4555.452,"m":15.067},{"t":4555.825,"m":15.067},{"t":4554.886,"m":15.068},{"t":4554.626,"m":15.069},{"t":4554.886,"m":15.069},{"t":4554.886,"m":15.070},
{"t":4555.452,"m":15.070},{"t":4555.825,"m":15.070},{"t":4555.791,"m":15.071},{"t":4555.712,"m":15.072},{"t":4555.791,"m":15.073},{"t":4554.626,"m":15.074},
{"t":4554.852,"m":15.074},{"t":4554.852,"m":15.075},{"t":4555.452,"m":15.075},{"t":4555.599,"m":15.075},{"t":4555.757,"m":15.075},{"t":4554.626,"m":15.076},
{"t":4554.852,"m":15.076},{"t":4555.486,"m":15.076},{"t":4555.622,"m":15.076},{"t":4555.757,"m":15.076},{"t":4554.852,"m":15.077},{"t":4555.599,"m":15.077},
{"t":4555.757,"m":15.077},{"t":4554.83,"m":15.079},{"t":4555.486,"m":15.079},{"t":4555.599,"m":15.079},{"t":4555.712,"m":15.079},{"t":4555.508,"m":15.080},
{"t":4555.678,"m":15.080},{"t":4554.626,"m":15.081},{"t":4555.678,"m":15.081},{"t":4554.83,"m":15.082},{"t":4555.531,"m":15.083},{"t":4555.531,"m":15.084},
{"t":4555.644,"m":15.084},{"t":4554.66,"m":15.085},{"t":4554.66,"m":15.087},{"t":4554.807,"m":15.087},{"t":4554.807,"m":15.088},{"t":4555.565,"m":15.088},
{"t":4555.599,"m":15.089},{"t":4555.565,"m":15.090},{"t":4554.716,"m":15.095},{"t":4554.807,"m":15.095},{"t":4554.773,"m":15.096},{"t":4554.739,"m":15.097},
{"t":4554.694,"m":15.098},{"t":4554.773,"m":15.098},{"t":4554.716,"m":15.100}
],
"model": [
{"t":4533.83,"m":15.057},{"t":4534.107,"m":15.048},{"t":4534.367,"m":15.0362},{"t":4534.594,"m":15.0241},{"t":4534.763,"m":15.0139},{"t":4534.91,"m":15.0078},
{"t":4534.933,"m":15.0091},{"t":4535.103,"m":15.0099},{"t":4535.159,"m":15.0111},{"t":4535.329,"m":15.013},{"t":4535.498,"m":15.0135},{"t":4535.589,"m":15.0149},
{"t":4535.725,"m":15.0164},{"t":4535.86,"m":15.0192},{"t":4535.974,"m":15.0216},{"t":4536.064,"m":15.0232},{"t":4536.2,"m":15.0265},{"t":4536.29,"m":15.0313},
{"t":4536.381,"m":15.0362},{"t":4536.46,"m":15.0403},{"t":4536.539,"m":15.0443},{"t":4536.607,"m":15.048},{"t":4536.686,"m":15.052},{"t":4536.799,"m":15.0561},
{"t":4536.89,"m":15.0593},{"t":4536.969,"m":15.0619},{"t":4537.059,"m":15.0593},{"t":4537.172,"m":15.054},{"t":4537.286,"m":15.048},{"t":4537.421,"m":15.0403},
{"t":4537.534,"m":15.0322},{"t":4537.67,"m":15.0241},{"t":4537.851,"m":15.018},{"t":4538.044,"m":15.0151},{"t":4538.123,"m":15.0159},{"t":4538.236,"m":15.017},
{"t":4538.417,"m":15.0184},{"t":4538.553,"m":15.02},{"t":4538.722,"m":15.021},{"t":4538.835,"m":15.0232},{"t":4538.948,"m":15.0253},{"t":4539.062,"m":15.0277},
{"t":4539.175,"m":15.0305},{"t":4539.288,"m":15.0338},{"t":4539.401,"m":15.0374},{"t":4539.514,"m":15.0419},{"t":4539.627,"m":15.048},{"t":4539.774,"m":15.054},
{"t":4539.932,"m":15.0609},{"t":4540.045,"m":15.067},{"t":4540.113,"m":15.067},{"t":4540.249,"m":15.0601},{"t":4540.385,"m":15.054},{"t":4540.498,"m":15.048},
{"t":4540.566,"m":15.0403},{"t":4540.702,"m":15.0322},{"t":4540.837,"m":15.0241},{"t":4540.984,"m":15.0139},{"t":4541.154,"m":15.0082},{"t":4541.222,"m":15.0078},
{"t":4541.403,"m":15.0091},{"t":4541.482,"m":15.011},{"t":4541.821,"m":15.011},{"t":4541.9,"m":15.0119},{"t":4542.014,"m":15.0131},{"t":4542.127,"m":15.0148},
{"t":4542.24,"m":15.0168},{"t":4542.353,"m":15.0196},{"t":4542.466,"m":15.022},{"t":4542.579,"m":15.0253},{"t":4542.692,"m":15.0289},{"t":4542.783,"m":15.0322},
{"t":4542.873,"m":15.0362},{"t":4542.952,"m":15.0411},{"t":4543.032,"m":15.048},{"t":4543.122,"m":15.0528},{"t":4543.213,"m":15.0581},{"t":4543.258,"m":15.0589},
{"t":4543.348,"m":15.0553},{"t":4543.49,"m":15.048},{"t":4543.665,"m":15.0382},{"t":4543.801,"m":15.0281},{"t":4543.937,"m":15.02},{"t":4544.083,"m":15.0127},
{"t":4544.253,"m":15.0066},{"t":4544.389,"m":15.004},{"t":4544.479,"m":15.0052},{"t":4544.615,"m":15.0064},{"t":4544.728,"m":15.0078},{"t":4544.875,"m":15.0091},
{"t":4545.022,"m":15.0101},{"t":4545.135,"m":15.0127},{"t":4545.248,"m":15.0151},{"t":4545.362,"m":15.0176},{"t":4545.497,"m":15.0204},{"t":4545.633,"m":15.0232},
{"t":4545.724,"m":15.0281},{"t":4545.814,"m":15.0342},{"t":4545.927,"m":15.0411},{"t":4546.063,"m":15.048},{"t":4546.233,"m":15.054},{"t":4546.346,"m":15.0581},
{"t":4546.425,"m":15.0631},{"t":4546.493,"m":15.0602},{"t":4546.606,"m":15.0521},{"t":4546.685,"m":15.048},{"t":4546.855,"m":15.0403},{"t":4546.991,"m":15.0301},
{"t":4547.137,"m":15.022},{"t":4547.285,"m":15.0127},{"t":4547.42,"m":15.0058},{"t":4547.533,"m":14.9989},{"t":4547.624,"m":15.0001},{"t":4547.737,"m":15.0018},
{"t":4547.85,"m":15.0028},{"t":4547.986,"m":15.004},{"t":4548.155,"m":15.004},{"t":4548.325,"m":15.007},{"t":4548.495,"m":15.0107},{"t":4548.664,"m":15.0147},
{"t":4548.8,"m":15.0184},{"t":4548.947,"m":15.0241},{"t":4549.06,"m":15.0301},{"t":4549.139,"m":15.0362},{"t":4549.23,"m":15.0423},{"t":4549.32,"m":15.048},
{"t":4549.457,"m":15.054},{"t":4549.604,"m":15.059},{"t":4549.683,"m":15.054},{"t":4549.762,"m":15.048},{"t":4549.943,"m":15.0366},{"t":4550.101,"m":15.0265},
{"t":4550.282,"m":15.0164},{"t":4550.441,"m":15.0095},{"t":4550.588,"m":15.007},{"t":4550.667,"m":15.008},{"t":4550.814,"m":15.0091},{"t":4550.893,"m":15.0101},
{"t":4551.006,"m":15.0111},{"t":4551.119,"m":15.0121},{"t":4551.266,"m":15.0131},{"t":4551.379,"m":15.0155},{"t":4551.493,"m":15.0176},{"t":4551.606,"m":15.02},
{"t":4551.719,"m":15.022},{"t":4551.809,"m":15.024},{"t":4551.888,"m":15.0277},{"t":4551.956,"m":15.0318},{"t":4552.024,"m":15.0354},{"t":4552.115,"m":15.0395},
{"t":4552.228,"m":15.0443},{"t":4552.318,"m":15.048},{"t":4552.454,"m":15.0528},{"t":4552.567,"m":15.0569},{"t":4552.658,"m":15.0589},{"t":4552.771,"m":15.054},
{"t":4552.929,"m":15.048},{"t":4553.042,"m":15.0407},{"t":4553.189,"m":15.0285},{"t":4553.336,"m":15.0196},{"t":4553.472,"m":15.0115},{"t":4553.642,"m":15.0042},
{"t":4553.789,"m":14.9991},{"t":4553.868,"m":15.0001},{"t":4553.981,"m":15.001},{"t":4554.128,"m":15.0022},{"t":4554.264,"m":15.003},{"t":4554.377,"m":15.004},
{"t":4554.547,"m":15.0058},{"t":4554.66,"m":15.0079},{"t":4554.773,"m":15.0103},{"t":4554.886,"m":15.0131},{"t":4554.999,"m":15.0164},{"t":4555.112,"m":15.0204},
{"t":4555.191,"m":15.0245},{"t":4555.259,"m":15.0285},{"t":4555.338,"m":15.033},{"t":4555.429,"m":15.0378},{"t":4555.531,"m":15.0431},{"t":4555.621,"m":15.048},
{"t":4555.712,"m":15.052},{"t":4555.791,"m":15.057}
],
"ext": [
{"t":4533.80,"m":15.0570},{"t":4534.899,"m":15.0110},{"t":4536.912,"m":15.0620},{"t":4538.021,"m":15.0180},{"t":4540.102,"m":15.0670},
{"t":4541.17,"m":15.0079},{"t":4543.258,"m":15.0570},{"t":4544.502,"m":15.0060},{"t":4546.425,"m":15.0620},{"t":4547.612,"m":15.0000},
{"t":4549.45,"m":15.0570},{"t":4550.61,"m":15.0099},{"t":4552.658,"m":15.0580},{"t":4553.811,"m":15.0000},{"t":4555.813,"m":15.0550}
],
"label": [{"text":"b)","t":4538.15,"m":15.0939}]
},
"resolve": {"axis": {"x": "independent", "y": "independent"}},
"layer": [
{"data": {"name": "obs"},
 "mark": {"type": "point", "filled": true, "size": 40, "color": "#0000ff", "opacity": 1, "strokeWidth": 0},
 "encoding": {
  "x": {"field": "t", "type": "quantitative",
   "scale": {"domain": [4533, 4558], "nice": false, "zero": false},
   "axis": {"orient": "bottom", "values": [4534,4535,4536,4537,4538,4539,4540,4541,4542,4543,4544,4545,4546,4547,4548,4549,4550,4551,4552,4553,4554,4555,4556,4557],
    "labelExpr": "datum.value % 5 === 0 ? format(datum.value, 'd') : ''",
    "tickSize": {"condition": {"test": "datum.value % 5 === 0", "value": -13}, "value": -7},
    "labelPadding": 42, "labelFont": "Liberation Sans", "labelFontSize": 19, "labelColor": "#000000",
    "labelBaseline": "top", "labelFlush": false, "labelOverlap": false,
    "tickColor": "#000000", "tickWidth": 1.5, "domainColor": "#000000", "domainWidth": 1.5, "grid": false,
    "title": "MJD − 50000. (days)", "titleFont": "Liberation Mono", "titleFontSize": 29, "titleFontWeight": "normal",
    "titleColor": "#000000", "titlePadding": 3}},
  "y": {"field": "m", "type": "quantitative",
   "scale": {"domain": [14.98, 15.1], "nice": false, "zero": false, "reverse": true},
   "axis": {"orient": "left", "values": [14.98,14.985,14.99,14.995,15,15.005,15.01,15.015,15.02,15.025,15.03,15.035,15.04,15.045,15.05,15.055,15.06,15.065,15.07,15.075,15.08,15.085,15.09,15.095,15.1],
    "labelExpr": "round(datum.value*1000) % 20 === 0 ? format(datum.value, '~g') : ''",
    "tickSize": {"condition": {"test": "round(datum.value*1000) % 20 === 0", "value": -13}, "value": -7},
    "labelPadding": 31, "labelFont": "Liberation Sans", "labelFontSize": 19, "labelColor": "#000000",
    "labelBaseline": "top", "labelFlush": false, "labelOverlap": false,
    "tickColor": "#000000", "tickWidth": 1.5, "domainColor": "#000000", "domainWidth": 1.5, "grid": false,
    "title": "CoRoT mag", "titleFont": "Liberation Mono", "titleFontSize": 30, "titleFontWeight": "normal",
    "titleColor": "#000000", "titlePadding": -3}}
 }},
{"data": {"name": "model"},
 "mark": {"type": "line", "color": "#ff00ff", "strokeWidth": 1.5},
 "encoding": {
  "x": {"field": "t", "type": "quantitative",
   "axis": {"orient": "top", "values": [4534,4535,4536,4537,4538,4539,4540,4541,4542,4543,4544,4545,4546,4547,4548,4549,4550,4551,4552,4553,4554,4555,4556,4557],
    "labels": false, "title": null,
    "tickSize": {"condition": {"test": "datum.value % 5 === 0", "value": -13}, "value": -7},
    "tickColor": "#000000", "tickWidth": 1.5, "domainColor": "#000000", "domainWidth": 1.5, "grid": false}},
  "y": {"field": "m", "type": "quantitative",
   "axis": {"orient": "right", "values": [14.985,14.99,14.995,15,15.005,15.01,15.015,15.02,15.025,15.03,15.035,15.04,15.045,15.05,15.055,15.06,15.065,15.07,15.075,15.08,15.085,15.09,15.095],
    "labels": false, "title": null,
    "tickSize": {"condition": {"test": "round(datum.value*1000) % 20 === 0", "value": -13}, "value": -7},
    "tickColor": "#000000", "tickWidth": 1.5, "domainColor": "#000000", "domainWidth": 1.5, "grid": false}}
 }},
{"data": {"name": "ext"},
 "mark": {"type": "point", "filled": false, "size": 560, "color": "#00e600", "strokeWidth": 1.5, "opacity": 1},
 "encoding": {
  "x": {"field": "t", "type": "quantitative", "axis": null},
  "y": {"field": "m", "type": "quantitative", "axis": null}
 }},
{"data": {"name": "label"},
 "mark": {"type": "text", "font": "Liberation Mono", "fontSize": 32, "color": "#0000ff", "align": "center", "baseline": "middle"},
 "encoding": {
  "text": {"field": "text"},
  "x": {"field": "t", "type": "quantitative", "axis": null},
  "y": {"field": "m", "type": "quantitative", "axis": null}
 }}
]
}
